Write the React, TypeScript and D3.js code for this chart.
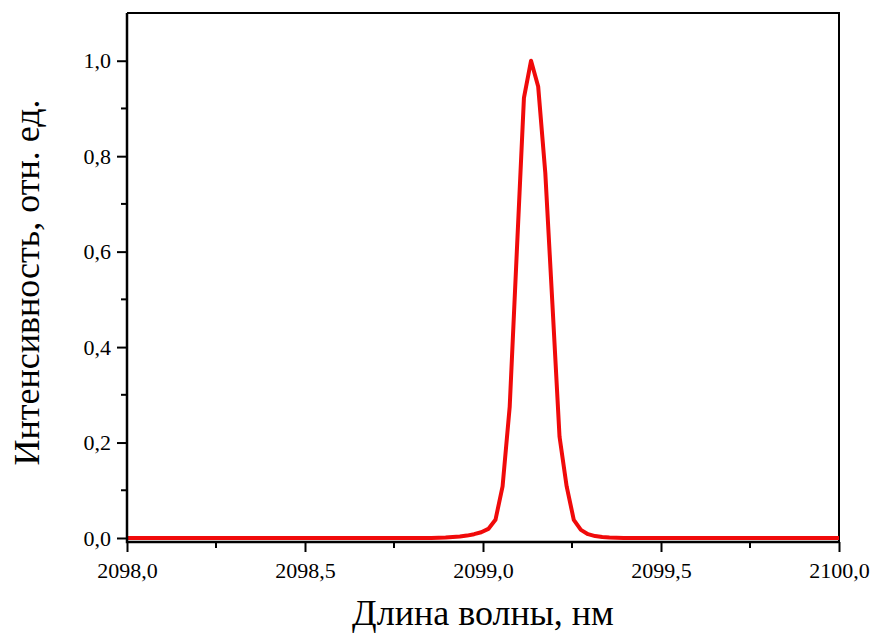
import * as d3 from "d3";
import { useEffect, useRef } from "react";

const width = 874;
const height = 635;
const margin = { top: 13, right: 35, bottom: 93, left: 127 };

// wavelength, nm
const wavelength = [
  2098.0, 2098.855, 2098.875, 2098.895, 2098.915, 2098.935, 2098.955, 2098.975,
  2098.995, 2099.015, 2099.035, 2099.055, 2099.075, 2099.095, 2099.115,
  2099.135, 2099.155, 2099.175, 2099.195, 2099.215, 2099.235, 2099.255,
  2099.275, 2099.295, 2099.315, 2099.335, 2099.355, 2099.375, 2099.395, 2100.0,
];
// intensity, rel. units
const intensity = [
  0, 0, 0.0005, 0.001, 0.002, 0.003, 0.005, 0.008, 0.012, 0.019, 0.038, 0.108,
  0.275, 0.6, 0.922, 1.0, 0.946, 0.765, 0.49, 0.212, 0.108, 0.038, 0.017, 0.008,
  0.004, 0.002, 0.001, 0.0005, 0, 0,
];

const xTicks = [2098.0, 2098.5, 2099.0, 2099.5, 2100.0];
const xMinorTicks = [2098.25, 2098.75, 2099.25, 2099.75];
const yTicks = [0, 0.2, 0.4, 0.6, 0.8, 1.0];
const yMinorTicks = [0.1, 0.3, 0.5, 0.7, 0.9];

const font = "Liberation Serif, Times New Roman, serif";
const fmt = (v: number, digits: number) => v.toFixed(digits).replace(".", ",");

function drawChart(el: SVGSVGElement) {
  const svg = d3.select(el);
  svg.selectAll("*").remove();

  const x = d3
    .scaleLinear()
    .domain([2098, 2100])
    .range([margin.left, width - margin.right]);
  const y = d3
    .scaleLinear()
    .domain([-0.0084, 1.1])
    .range([height - margin.bottom, margin.top]);

  const x0 = margin.left;
  const x1 = width - margin.right;
  const y0 = height - margin.bottom;
  const y1 = margin.top;

  // frame (top / right)
  svg
    .append("path")
    .attr("d", `M${x0},${y1}H${x1}V${y0}`)
    .attr("fill", "none")
    .attr("stroke", "#000")
    .attr("stroke-width", 2);

  // the spectrum
  const points: [number, number][] = wavelength.map((w, i) => [w, intensity[i]]);
  const line = d3
    .line<[number, number]>()
    .x((d) => x(d[0]))
    .y((d) => y(d[1]));

  svg
    .append("path")
    .datum(points)
    .attr("d", line)
    .attr("fill", "none")
    .attr("stroke", "#f00a0a")
    .attr("stroke-width", 4)
    .attr("stroke-linejoin", "round");

  // x axis
  const xAxis = svg
    .append("g")
    .attr("transform", `translate(0,${y0})`)
    .call(
      d3
        .axisBottom(x)
        .tickValues(xTicks)
        .tickSize(10)
        .tickPadding(10)
        .tickFormat((d) => fmt(d as number, 1))
    );
  xAxis
    .append("g")
    .selectAll("line")
    .data(xMinorTicks)
    .enter()
    .append("line")
    .attr("x1", (d) => x(d))
    .attr("x2", (d) => x(d))
    .attr("y1", 0)
    .attr("y2", 6)
    .attr("stroke", "#000")
    .attr("stroke-width", 2);

  // y axis
  const yAxis = svg
    .append("g")
    .attr("transform", `translate(${x0},0)`)
    .call(
      d3
        .axisLeft(y)
        .tickValues(yTicks)
        .tickSize(10)
        .tickPadding(6)
        .tickFormat((d) => fmt(d as number, 1))
    );
  yAxis
    .append("g")
    .selectAll("line")
    .data(yMinorTicks)
    .enter()
    .append("line")
    .attr("y1", (d) => y(d))
    .attr("y2", (d) => y(d))
    .attr("x1", 0)
    .attr("x2", -6)
    .attr("stroke", "#000")
    .attr("stroke-width", 2);

  [xAxis, yAxis].forEach((g) => {
    g.attr("font-family", font).attr("font-size", 22);
    g.select(".domain").remove();
    g.selectAll(".tick line").attr("stroke", "#000").attr("stroke-width", 2);
    g.selectAll("text")
      .attr("fill", "#000")
      .attr("font-family", font)
      .attr("font-size", 22);
  });

  // axis lines drawn over the ticks
  svg
    .append("path")
    .attr("d", `M${x0},${y1}V${y0}H${x1}`)
    .attr("fill", "none")
    .attr("stroke", "#000")
    .attr("stroke-width", 2.5);

  // axis titles
  svg
    .append("text")
    .attr("x", (x0 + x1) / 2)
    .attr("y", 625)
    .attr("text-anchor", "middle")
    .attr("font-family", font)
    .attr("font-size", 36)
    .attr("fill", "#000")
    .text("Длина волны, нм");

  svg
    .append("text")
    .attr("transform", `translate(39,${(y0 + y1) / 2 + 5}) rotate(-90)`)
    .attr("text-anchor", "middle")
    .attr("font-family", font)
    .attr("font-size", 36)
    .attr("fill", "#000")
    .text("Интенсивность, отн. ед.");
}

export default function App() {
  const ref = useRef<SVGSVGElement>(null);
  useEffect(() => {
    if (ref.current) drawChart(ref.current);
  }, []);
  return (
    <div style={{ position: "absolute", left: 0, top: 0 }}>
      <svg
        ref={ref}
        width={width}
        height={height}
        style={{ display: "block", background: "#fff" }}
      ></svg>
    </div>
  );
}
